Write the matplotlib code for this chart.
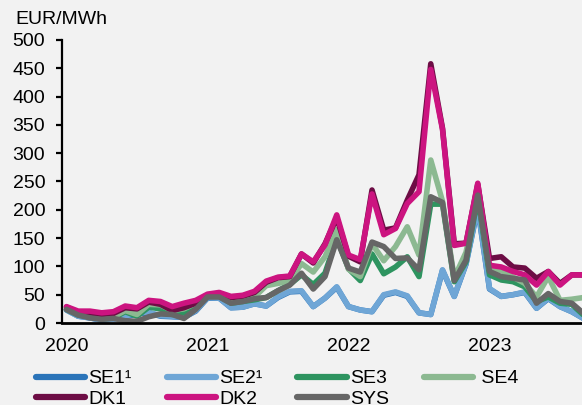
import matplotlib
matplotlib.use("Agg")
import matplotlib.pyplot as plt
import numpy as np

plt.rcParams["font.family"] = ["Liberation Sans", "DejaVu Sans"]

# monthly averages, Jan 2020 .. Sep 2023 (EUR/MWh)
se1 = [23, 12, 9, 5, 7, 11, 16, 18, 12, 11, 10, 21,
       44, 44, 27, 28, 34, 30, 45, 55, 56, 29, 44, 63,
       29, 23, 20, 49, 54, 47, 18, 15, 93, 47, 104, 203,
       60, 47, 50, 54, 26, 43, 29, 20, 8]
se2 = [23, 12, 9, 5, 7, 12, 18, 19, 13, 12, 10, 22,
       45, 44, 27, 28, 34, 30, 46, 56, 57, 29, 44, 64,
       29, 23, 20, 50, 55, 48, 18, 15, 94, 47, 105, 205,
       61, 47, 50, 55, 26, 44, 29, 20, 8]
se3 = [24, 14, 11, 7, 9, 20, 12, 28, 25, 15, 18, 28,
       47, 47, 35, 38, 41, 45, 57, 68, 85, 68, 88, 150,
       96, 75, 122, 87, 99, 117, 82, 210, 210, 73, 108, 222,
       85, 76, 73, 64, 38, 46, 35, 33, 14]
se4 = [25, 16, 13, 9, 11, 22, 15, 33, 32, 22, 25, 35,
       49, 50, 40, 43, 46, 66, 70, 74, 105, 90, 117, 165,
       95, 82, 140, 110, 135, 170, 120, 288, 215, 80, 125, 228,
       95, 93, 81, 70, 46, 82, 40, 42, 45]
dk1 = [28, 19, 18, 15, 17, 27, 25, 37, 33, 22, 27, 35,
       49, 52, 45, 47, 54, 72, 80, 82, 122, 106, 140, 186,
       118, 108, 235, 164, 168, 217, 262, 458, 344, 140, 141, 245,
       114, 117, 99, 97, 79, 91, 70, 85, 85]
dk2 = [29, 21, 21, 18, 20, 30, 27, 40, 38, 29, 35, 40,
       51, 54, 47, 49, 56, 74, 81, 83, 122, 108, 138, 191,
       120, 112, 228, 156, 167, 211, 232, 448, 342, 137, 141, 247,
       102, 99, 91, 85, 67, 91, 67, 85, 85]
sys_ = [24, 14, 9, 6.5, 8, 4, 3, 11, 16, 15, 8, 24,
        46, 46, 35, 38, 43, 45, 57, 67, 88, 60, 82, 147,
        97, 90, 143, 135, 114, 115, 94, 223, 213, 75, 111, 226,
        91, 82, 79, 76, 35, 52, 38, 35, 17]

years = ["2020", "2021", "2022", "2023"]

series = [
    ("SE1\u00b9", se1, "#2b74b9"),
    ("SE2\u00b9", se2, "#6fa6d6"),
    ("SE3", se3, "#2e9460"),
    (" SE4", se4, "#8cb991"),
    ("DK1", dk1, "#6d0d45"),
    ("DK2", dk2, "#cc1480"),
    ("SYS", sys_, "#666666"),
]

bg = "#f2f2f2"
fig = plt.figure(figsize=(5.82, 4.05), dpi=100, facecolor=bg)
ax = fig.add_axes([62 / 582, 1 - 323 / 405, 1 - 62 / 582, 283 / 405])
ax.set_facecolor(bg)

months = np.arange(len(se1))
lines = {}
for name, vals, col in series:
    (ln,) = ax.plot(months, vals, color=col, lw=4.0, solid_capstyle="round",
                    solid_joinstyle="round", label=name)
    lines[name] = ln

ax.set_ylim(0, 500)
ax.set_yticks(np.arange(0, 501, 50))
ax.set_xlim(-0.38, 43.87)
ax.set_xticks([0, 12, 24, 36])
ax.set_xticklabels(years)

for s in ["top", "right"]:
    ax.spines[s].set_visible(False)
ax.spines["left"].set_linewidth(1.6)
ax.spines["bottom"].set_linewidth(2)
ax.tick_params(axis="y", direction="out", length=4, width=1.6, pad=8, labelsize=14)
ax.tick_params(axis="x", length=0, pad=11, labelsize=14)

fig.text(15 / 582, 1 - 20 / 405, "EUR/MWh", fontsize=14, va="center", ha="left")

order = ["SE1\u00b9", "DK1", "SE2\u00b9", "DK2", "SE3", "SYS", " SE4"]
leg = fig.legend([lines[n] for n in order], order, ncol=4, loc="upper left",
                 bbox_to_anchor=(28 / 582, 1 - 362 / 405), frameon=False,
                 fontsize=14, handlelength=2.55, handletextpad=0.15,
                 columnspacing=1.8, labelspacing=0.15, borderaxespad=0)
for h in leg.legend_handles:
    h.set_linewidth(4.5)

fig.savefig("out.png", dpi=100, facecolor=bg)
